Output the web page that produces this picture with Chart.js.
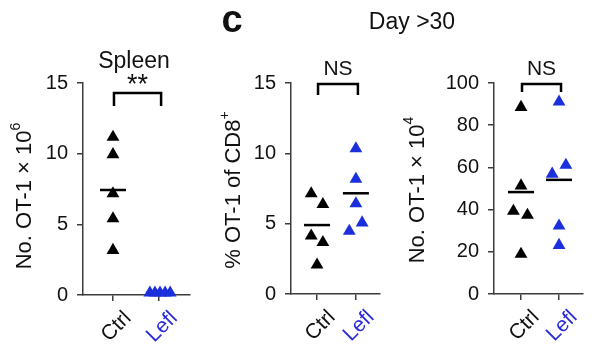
<!DOCTYPE html>
<html><head><meta charset="utf-8">
<script src="https://cdn.jsdelivr.net/npm/chart.js@4.4.1/dist/chart.umd.min.js"></script>
<style>
html,body{margin:0;padding:0;background:#fff;width:600px;height:361px;overflow:hidden}
canvas{position:absolute;left:0;top:0}
</style></head><body>
<canvas id="c1" width="600" height="361"></canvas>
<canvas id="c2" width="600" height="361"></canvas>
<canvas id="c3" width="600" height="361"></canvas>
<script>
// ---------- data ----------
const groups = ['Ctrl', 'Lefl'];

// Spleen: No. OT-1 x 10^6
const spleenCtrl = [11.17, 9.94, 7.17, 5.41, 3.17];
const spleenLefl = [0.15, 0.15, 0.15, 0.15, 0.15];
const spleenMeans = [7.43, 0.15];
const spleenTicks = [0, 5, 10, 15];

// Day >30: % OT-1 of CD8+
const pctCtrl = [7.14, 6.37, 4.13, 3.67, 2.07];
const pctLefl = [10.34, 8.17, 6.43, 4.47, 5.07];
const pctMeans = [4.9, 7.16];
const pctTicks = [0, 5, 10, 15];

// Day >30: No. OT-1 x 10^4
const numCtrl = [88.5, 51.3, 39.3, 37.4, 18.9];
const numLefl = [91.1, 56.9, 61.1, 32.3, 23.1];
const numMeans = [48.3, 54.1];
const numTicks = [0, 20, 40, 60, 80, 100];

// horizontal spread of overlapping points (category units)
const spleenCtrlJit = [0, 0, 0, 0, 0];
const spleenLeflJit = [-0.2, -0.09, 0.02, 0.13, 0.24];
const pctCtrlJit = [-0.15, 0.15, -0.15, 0.15, 0];
const pctLeflJit = [0, 0, 0, -0.17, 0.16];
const numCtrlJit = [0, 0, -0.2, 0.17, 0];
const numLeflJit = [0, -0.18, 0.18, 0, 0];

// ---------- styles ----------
const FONT = '"Liberation Sans", Arial, Helvetica, sans-serif';
const BLACK = '#000000';
const BLUE = '#1c2fdc';
const LABEL_COLORS = ['#111111', '#2a2ad8'];
const AXIS = '#3c3c3c';

function drawRich(ctx, parts, x, y, size, rotate) {
  ctx.save();
  ctx.translate(x, y);
  if (rotate) ctx.rotate(-Math.PI / 2);
  ctx.fillStyle = '#111';
  ctx.textBaseline = 'middle';
  ctx.textAlign = 'left';
  let widths = parts.map(p => {
    ctx.font = (p.sup ? Math.round(size * 0.62) : size) + 'px ' + FONT;
    return ctx.measureText(p.t).width;
  });
  let total = widths.reduce((a, b) => a + b, 0);
  let cx = -total / 2;
  parts.forEach((p, i) => {
    ctx.font = (p.sup ? Math.round(size * 0.62) : size) + 'px ' + FONT;
    ctx.fillText(p.t, cx, p.sup ? -size * 0.42 : 0);
    cx += widths[i];
  });
  ctx.restore();
}

function makePanel(id, o) {
  const annot = {
    id: 'annot_' + id,
    beforeDatasetsDraw(chart) {
      const ctx = chart.ctx, xs = chart.scales.x, ys = chart.scales.y;
      ctx.save();
      ctx.strokeStyle = BLACK; ctx.lineWidth = 2.5;
      o.means.forEach((m, i) => {
        const px = xs.getPixelForValue(i), py = ys.getPixelForValue(m);
        ctx.beginPath(); ctx.moveTo(px - 13, py); ctx.lineTo(px + 13, py); ctx.stroke();
      });
      ctx.restore();
    },
    afterDraw(chart) {
      const ctx = chart.ctx, xs = chart.scales.x;
      ctx.save();
      // category labels, rotated 45 degrees
      groups.forEach((g, i) => {
        const px = xs.getPixelForValue(i);
        ctx.save();
        ctx.translate(px + 15, xs.top + 20);
        ctx.rotate(-Math.PI / 4);
        ctx.font = '21px ' + FONT;
        ctx.fillStyle = LABEL_COLORS[i];
        ctx.textAlign = 'right'; ctx.textBaseline = 'middle';
        ctx.fillText(g, 0, 0);
        ctx.restore();
      });
      // significance bracket
      const xa = xs.getPixelForValue(0) + 1, xb = xs.getPixelForValue(1) + 2;
      ctx.strokeStyle = BLACK; ctx.lineWidth = 2.5; ctx.lineJoin = 'miter';
      ctx.beginPath();
      ctx.moveTo(xa, o.br.bottom); ctx.lineTo(xa, o.br.top);
      ctx.lineTo(xb, o.br.top); ctx.lineTo(xb, o.br.bottom);
      ctx.stroke();
      ctx.fillStyle = '#111'; ctx.textAlign = 'center'; ctx.textBaseline = 'middle';
      ctx.font = o.br.font + 'px ' + FONT;
      ctx.fillText(o.br.label, (xa + xb) / 2, o.br.labelY);
      // y-axis title
      drawRich(ctx, o.yTitle, o.yTitlePos[0], o.yTitlePos[1], 22, true);
      // extra texts
      (o.texts || []).forEach(t => {
        ctx.font = (t.bold ? 'bold ' : '') + t.size + 'px ' + FONT;
        ctx.fillStyle = '#111'; ctx.textAlign = 'center'; ctx.textBaseline = 'middle';
        ctx.fillText(t.t, t.x, t.y);
      });
      ctx.restore();
    }
  };
  const YW = 70, XH = 40;
  return new Chart(document.getElementById(id), {
    type: 'scatter',
    data: {
      datasets: [
        { data: o.ctrl.map((v, i) => ({ x: 0 + o.ctrlJit[i], y: v })),
          pointStyle: 'triangle', pointRadius: 7.4, pointHoverRadius: 7.4,
          backgroundColor: BLACK, borderColor: BLACK, borderWidth: 0, clip: false },
        { data: o.lefl.map((v, i) => ({ x: 1 + o.leflJit[i], y: v })),
          pointStyle: 'triangle', pointRadius: 7.4, pointHoverRadius: 7.4,
          backgroundColor: BLUE, borderColor: BLUE, borderWidth: 0, clip: false }
      ]
    },
    options: {
      responsive: false, animation: false, events: [],
      layout: { padding: { left: o.L - YW, right: 600 - o.R, top: o.T, bottom: 361 - o.B - XH } },
      plugins: { legend: { display: false }, tooltip: { enabled: false } },
      scales: {
        x: {
          type: 'linear', min: o.xMin, max: o.xMax,
          afterBuildTicks: s => { s.ticks = groups.map((g, i) => ({ value: i })); },
          afterFit: s => { s.height = XH; },
          grid: { display: true, drawOnChartArea: false, drawTicks: true, tickLength: 6, color: AXIS, lineWidth: 1.5 },
          border: { display: true, color: AXIS, width: 1.5 },
          ticks: { display: false }
        },
        y: {
          type: 'linear', min: o.yTicks[0], max: o.yTicks[o.yTicks.length - 1],
          afterBuildTicks: s => { s.ticks = o.yTicks.map(v => ({ value: v })); },
          afterFit: s => { s.width = YW; },
          grid: { display: true, drawOnChartArea: false, drawTicks: true, tickLength: 6, color: AXIS, lineWidth: 1.5 },
          border: { display: true, color: AXIS, width: 1.5 },
          ticks: { padding: 9, font: { family: FONT, size: 20 }, color: '#111' }
        }
      }
    },
    plugins: [annot]
  });
}

makePanel('c1', {
  ctrl: spleenCtrl, lefl: spleenLefl, means: spleenMeans, yTicks: spleenTicks,
  ctrlJit: spleenCtrlJit, leflJit: spleenLeflJit,
  L: 83, R: 190, T: 83, B: 295, xMin: -0.65, xMax: 1.67,
  br: { top: 93, bottom: 106, label: '**', labelY: 86, font: 27 },
  yTitle: [{ t: 'No. OT-1 × 10' }, { t: '6', sup: true }], yTitlePos: [25, 196],
  texts: [{ t: 'Spleen', x: 134, y: 62, size: 23 }]
});
makePanel('c2', {
  ctrl: pctCtrl, lefl: pctLefl, means: pctMeans, yTicks: pctTicks,
  ctrlJit: pctCtrlJit, leflJit: pctLeflJit,
  L: 291, R: 380, T: 83, B: 294, xMin: -0.67, xMax: 1.62,
  br: { top: 84, bottom: 95, label: 'NS', labelY: 69, font: 21 },
  yTitle: [{ t: '% OT-1 of CD8' }, { t: '+', sup: true }], yTitlePos: [234, 190],
  texts: [{ t: 'c', x: 232, y: 22, size: 38, bold: true }, { t: 'Day >30', x: 412, y: 23, size: 23 }]
});
makePanel('c3', {
  ctrl: numCtrl, lefl: numLefl, means: numMeans, yTicks: numTicks,
  ctrlJit: numCtrlJit, leflJit: numLeflJit,
  L: 494, R: 583, T: 83, B: 294, xMin: -0.71, xMax: 1.63,
  br: { top: 84, bottom: 92, label: 'NS', labelY: 69, font: 21 },
  yTitle: [{ t: 'No. OT-1 × 10' }, { t: '4', sup: true }], yTitlePos: [418, 190],
  texts: []
});
</script>
</body></html>
